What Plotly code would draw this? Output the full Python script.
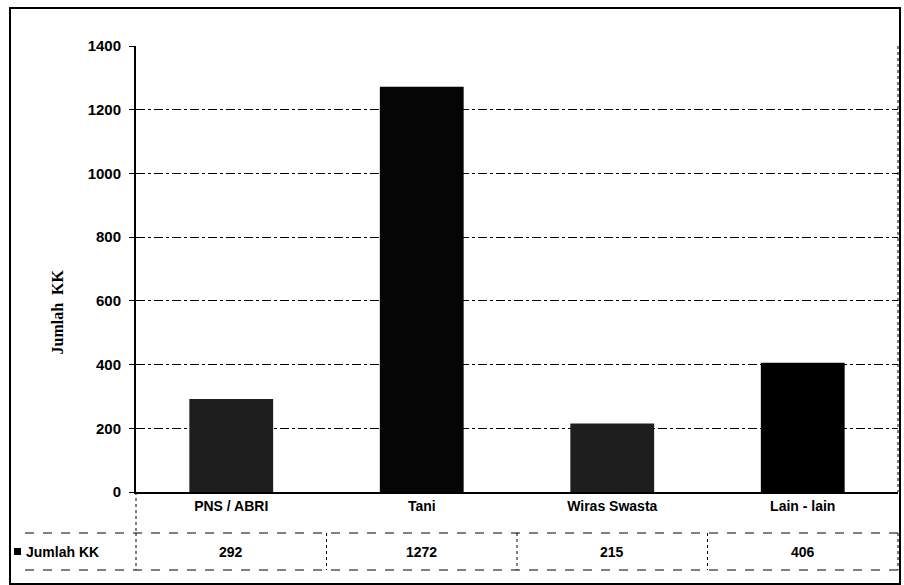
import plotly.graph_objects as go

categories = ["PNS / ABRI", "Tani", "Wiras Swasta", "Lain - lain"]
values = [292, 1272, 215, 406]
bar_colors = ["#1e1e1e", "#050505", "#1e1e1e", "#000000"]
series_name = "Jumlah KK"
y_ticks = [0, 200, 400, 600, 800, 1000, 1200, 1400]

L, R, T, B = 136, 6, 46, 93
W, H = 904, 585
pw, ph = W - L - R, H - T - B

def px(x):
    return (x - L) / pw

def py(y):
    return (H - B - y) / ph

fig = go.Figure()
fig.add_trace(go.Bar(x=categories, y=values, marker=dict(color=bar_colors, line=dict(width=0)),
                     name=series_name, showlegend=False))

font_b = "Liberation Sans Narrow, Liberation Sans, Arial Narrow, Arial"

shapes = []
# outer border
shapes.append(dict(type="rect", xref="paper", yref="paper", x0=px(10), x1=px(900), y0=py(584), y1=py(8),
                   line=dict(color="black", width=2)))
# table horizontal lines
for yy in [533, 570]:
    shapes.append(dict(type="line", xref="paper", yref="paper", x0=px(25), x1=px(898), y0=py(yy), y1=py(yy),
                       line=dict(color="black", width=1, dash="dash")))
# table vertical lines
for i in range(len(categories) + 1):
    xx = L + i * pw / len(categories)
    shapes.append(dict(type="line", xref="paper", yref="paper", x0=px(xx), x1=px(xx), y0=py(533), y1=py(570),
                       line=dict(color="black", width=1, dash="dot")))
shapes.append(dict(type="line", xref="paper", yref="paper", x0=px(136), x1=px(136), y0=py(492), y1=py(533),
                   line=dict(color="black", width=1, dash="dot")))
shapes.append(dict(type="line", xref="paper", yref="paper", x0=px(898), x1=px(898), y0=py(46), y1=py(492),
                   line=dict(color="black", width=1, dash="dot")))
# legend key square
shapes.append(dict(type="rect", xref="paper", yref="paper", x0=px(14), x1=px(21), y0=py(555), y1=py(548),
                   fillcolor="black", line=dict(width=0)))

bold_font = dict(family=font_b, size=14, color="black", weight="bold")
annotations = []
for c, v in zip(categories, values):
    annotations.append(dict(x=c, xref="x", y=py(552), yref="paper", text=str(v), showarrow=False,
                            font=bold_font, yanchor="middle"))
annotations.append(dict(x=px(24), xref="paper", y=py(552), yref="paper", text=series_name, showarrow=False,
                        xanchor="left", yanchor="middle", font=bold_font))
annotations.append(dict(x=px(46), xref="paper", y=py(312), yref="paper", text="Jumlah  KK", showarrow=False,
                        textangle=-90,
                        font=dict(family="Liberation Serif, Times New Roman, serif", size=16, color="black",
                                  weight="bold")))

fig.update_layout(
    width=W, height=H,
    margin=dict(l=L, r=R, t=T, b=B),
    paper_bgcolor="white", plot_bgcolor="white",
    bargap=0.56,
    shapes=shapes,
    annotations=annotations,
    font=dict(family=font_b, color="black"),
)
fig.update_xaxes(showgrid=False, showline=True, linecolor="black", linewidth=2, ticks="",
                 tickfont=bold_font)
fig.update_yaxes(range=[0, 1400], tickvals=y_ticks, showgrid=True, gridcolor="black", griddash="dashdot",
                 gridwidth=1, showline=True, linecolor="black", linewidth=2, ticks="outside", ticklen=5,
                 ticklabelstandoff=5,
                 tickcolor="black", tickfont=dict(family=font_b, size=15, color="black", weight="bold"),
                 zeroline=False)

fig.write_html("out.html")
